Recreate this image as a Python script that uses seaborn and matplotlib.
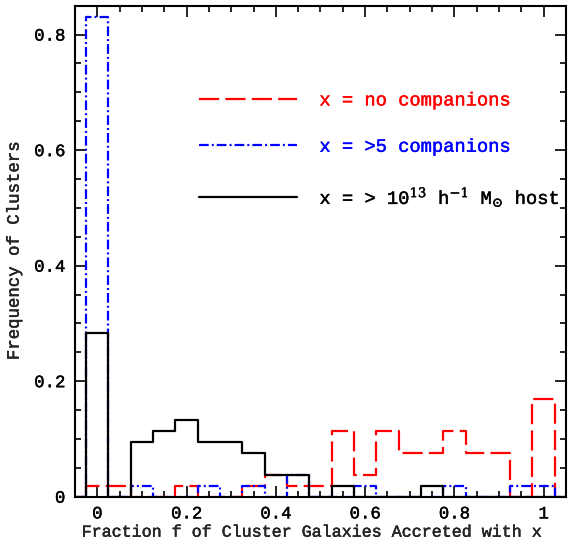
import matplotlib
matplotlib.use("Agg")
import matplotlib.pyplot as plt
import matplotlib.patheffects as pe
from matplotlib.ticker import MultipleLocator, FormatStrFormatter
import numpy as np
import pandas as pd
import seaborn as sns

# fraction bins (centres) and cluster frequency for each companion type
bin_centers = [0.0, 0.05, 0.1, 0.15, 0.2, 0.25, 0.3, 0.35, 0.4, 0.45, 0.5,
               0.55, 0.6, 0.65, 0.7, 0.75, 0.8, 0.85, 0.9, 0.95, 1.0]
n_clusters = 53
no_companions = [1, 1, 0, 0, 1, 0, 0, 1, 2, 1, 1, 6, 2, 6, 4, 4, 6, 4, 4, 0, 9]
many_companions = [44, 0, 1, 0, 0, 1, 0, 1, 0, 2, 0, 0, 1, 0, 0, 0, 1, 0, 0, 1, 1]
massive_host = [15, 0, 5, 6, 7, 5, 5, 4, 2, 2, 0, 1, 0, 0, 0, 1, 0, 0, 0, 0, 0]

labels = ["x = no companions", "x = >5 companions",
          r"x = > 10$^{13}$ h$^{-1}$ M$_{\odot}$ host"]
colors = ["red", "blue", "black"]
styles = [(0, (14.5, 4.5)), (0, (7, 2.2, 1.4, 2.2)), "-"]

sns.set_style("ticks")
plt.rcParams["font.family"] = ["Liberation Mono", "DejaVu Sans"]
plt.rcParams["mathtext.fontset"] = "custom"
plt.rcParams["mathtext.rm"] = "DejaVu Serif"
plt.rcParams["mathtext.it"] = "DejaVu Serif"
plt.rcParams["lines.scale_dashes"] = False

df = pd.DataFrame({
    "f": bin_centers * 3,
    "freq": np.array(no_companions + many_companions + massive_host) / n_clusters,
    "kind": sum([[l] * len(bin_centers) for l in labels], []),
})

fig = plt.figure(figsize=(5.74, 5.49), dpi=100)
ax = fig.add_axes([0.1307, 0.0953, 0.8553, 0.8943])

for lab, col, ls in zip(labels, colors, styles):
    sub = df[df["kind"] == lab].reset_index(drop=True)
    sns.histplot(data=sub, x="f", weights="freq", binwidth=0.05,
                 binrange=(-0.075, 1.075), element="step",
                 fill=False, color=col, linestyle=ls, linewidth=1.6, ax=ax,
                 label=lab)

ax.set_xlim(-0.05, 1.05)
ax.set_ylim(0, 0.85)
ax.xaxis.set_major_locator(MultipleLocator(0.2))
ax.xaxis.set_minor_locator(MultipleLocator(0.05))
ax.yaxis.set_major_locator(MultipleLocator(0.2))
ax.yaxis.set_minor_locator(MultipleLocator(0.05))
ax.xaxis.set_major_formatter(FormatStrFormatter("%g"))
ax.yaxis.set_major_formatter(FormatStrFormatter("%g"))
ax.tick_params(which="both", direction="in", top=True, right=True,
               labelsize=12.5, width=1.2, colors="black")
ax.tick_params(which="major", length=8, pad=7)
ax.tick_params(which="minor", length=4.3)
for s in ax.spines.values():
    s.set_linewidth(1.5)
    s.set_color("black")

ax.set_xlabel("Fraction f of Cluster Galaxies Accreted with x", fontsize=12,
              labelpad=2)
ax.xaxis.set_label_coords(0.482, -0.057)
ax.set_ylabel("Frequency of Clusters", fontsize=12.5, labelpad=9)

leg = ax.legend(loc="upper left", bbox_to_anchor=(0.219, 0.858), frameon=False,
                prop={"size": 13.5}, handlelength=5.2,
                handletextpad=1.2, labelspacing=1.56, labelcolor="linecolor")

# thicken the thin mono strokes a little
def thicken(t, col):
    t.set_path_effects([pe.Stroke(linewidth=0.3, foreground=col), pe.Normal()])

for t, c in zip(leg.get_texts(), colors):
    thicken(t, c)
for t in ax.get_xticklabels() + ax.get_yticklabels():
    thicken(t, "black")
thicken(ax.xaxis.label, "black")
thicken(ax.yaxis.label, "black")

fig.savefig("out.png", dpi=100)
